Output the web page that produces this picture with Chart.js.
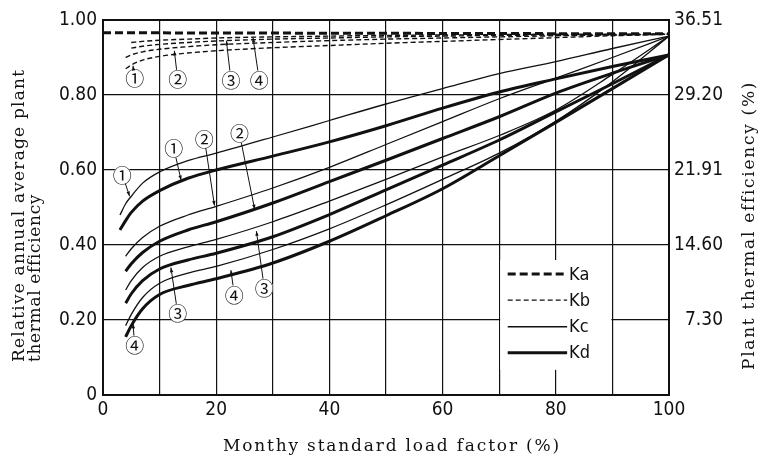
<!DOCTYPE html>
<html>
<head>
<meta charset="utf-8">
<script src="https://cdn.jsdelivr.net/npm/chart.js@4.4.1/dist/chart.umd.min.js"></script>
<style>
  html, body { margin: 0; padding: 0; background: #fff; }
  #c { display: block; }
</style>
</head>
<body>
<canvas id="c" width="763" height="466"></canvas>
<script>
// ---- data ----
const loadFactor = [3, 4, 5, 7, 10, 15, 20, 30, 40, 50, 60, 70, 80, 90, 100];

const kaX = [0, 100];
const ka  = [0.966, 0.963];

const kb1 = [null, 0.870, 0.880, 0.893, 0.903, 0.912, 0.918, 0.926, 0.932, 0.938, 0.943, 0.948, 0.953, 0.958, 0.962];
const kb2 = [null, 0.900, 0.907, 0.915, 0.922, 0.929, 0.934, 0.940, 0.945, 0.949, 0.952, 0.955, 0.958, 0.960, 0.962];
const kb3 = [null, null, 0.925, 0.930, 0.935, 0.940, 0.944, 0.949, 0.952, 0.955, 0.957, 0.959, 0.960, 0.961, 0.962];
const kb4 = [null, null, 0.940, 0.943, 0.946, 0.949, 0.952, 0.955, 0.957, 0.959, 0.960, 0.961, 0.962, 0.962, 0.963];

const kc1 = [0.480, 0.510, 0.530, 0.565, 0.595, 0.625, 0.645, 0.688, 0.732, 0.776, 0.817, 0.857, 0.889, 0.924, 0.957];
const kc2 = [null, 0.370, 0.390, 0.420, 0.450, 0.480, 0.503, 0.552, 0.607, 0.668, 0.729, 0.790, 0.845, 0.900, 0.957];
const kc3 = [null, 0.280, 0.305, 0.340, 0.370, 0.395, 0.415, 0.462, 0.517, 0.575, 0.635, 0.692, 0.760, 0.855, 0.957];
const kc4 = [null, 0.185, 0.215, 0.260, 0.298, 0.325, 0.343, 0.388, 0.443, 0.507, 0.575, 0.645, 0.730, 0.835, 0.957];

const kd1 = [0.440, 0.465, 0.487, 0.517, 0.545, 0.578, 0.600, 0.637, 0.675, 0.718, 0.765, 0.808, 0.843, 0.876, 0.907];
const kd2 = [null, 0.330, 0.350, 0.380, 0.410, 0.440, 0.462, 0.512, 0.569, 0.626, 0.684, 0.742, 0.805, 0.858, 0.907];
const kd3 = [null, 0.245, 0.270, 0.305, 0.336, 0.360, 0.378, 0.422, 0.481, 0.547, 0.613, 0.680, 0.755, 0.830, 0.907];
const kd4 = [null, 0.155, 0.185, 0.230, 0.268, 0.292, 0.310, 0.352, 0.410, 0.478, 0.550, 0.638, 0.727, 0.817, 0.907];

const xTickLabels = ['0', '20', '40', '60', '80', '100'];
const leftTickLabels = ['0', '0.20', '0.40', '0.60', '0.80', '1.00'];
const rightTickLabels = ['', '7.30', '14.60', '21.91', '29.20', '36.51'];
const legendLabels = ['Ka', 'Kb', 'Kc', 'Kd'];

// circled case numbers: [text, label x, label y, arrow tip x, arrow tip y] in data units
const callouts = [
    ['①', 5.6, 0.845, 5.3, 0.878],
    ['②', 13.2, 0.842, 12.6, 0.918],
    ['③', 22.6, 0.840, 21.8, 0.945],
    ['④', 27.6, 0.840, 26.5, 0.953],
    ['①', 3.4, 0.588, 4.7, 0.530],
    ['①', 12.5, 0.658, 13.8, 0.573],
    ['②', 17.9, 0.684, 19.7, 0.505],
    ['②', 24.1, 0.698, 26.8, 0.495],
    ['③', 28.5, 0.285, 27.1, 0.437],
    ['③', 13.2, 0.218, 12.0, 0.340],
    ['④', 23.2, 0.267, 22.6, 0.333],
    ['④', 5.6, 0.133, 5.3, 0.190]
];

// ---- styles ----
const INK = '#111';
const NARROW = '"DejaVu Sans Condensed", "DejaVu Sans", sans-serif';
const SERIF = '"DejaVu Serif", "Liberation Serif", serif';

const lineStyle = {
    Ka: { borderWidth: 3, borderDash: [8, 4] },
    Kb: { borderWidth: 1.4, borderDash: [5, 3] },
    Kc: { borderWidth: 1.3, borderDash: [] },
    Kd: { borderWidth: 3, borderDash: [] }
};

function toPoints(xs, ys) {
    return xs.map((x, i) => ({ x: x, y: ys[i] })).filter(p => p.y !== null);
}

function curve(label, key, xs, ys) {
    return {
        label: label,
        data: toPoints(xs, ys),
        borderColor: INK,
        borderWidth: lineStyle[key].borderWidth,
        borderDash: lineStyle[key].borderDash,
        pointRadius: 0,
        fill: false,
        cubicInterpolationMode: 'monotone'
    };
}

const datasets = [
    curve('Ka', 'Ka', kaX, ka),
    curve('Kb 1', 'Kb', loadFactor, kb1),
    curve('Kb 2', 'Kb', loadFactor, kb2),
    curve('Kb 3', 'Kb', loadFactor, kb3),
    curve('Kb 4', 'Kb', loadFactor, kb4),
    curve('Kc 1', 'Kc', loadFactor, kc1),
    curve('Kc 2', 'Kc', loadFactor, kc2),
    curve('Kc 3', 'Kc', loadFactor, kc3),
    curve('Kc 4', 'Kc', loadFactor, kc4),
    curve('Kd 1', 'Kd', loadFactor, kd1),
    curve('Kd 2', 'Kd', loadFactor, kd2),
    curve('Kd 3', 'Kd', loadFactor, kd3),
    curve('Kd 4', 'Kd', loadFactor, kd4)
];

function spacedText(ctx, text, x, y, target) {
    ctx.letterSpacing = '0px';
    const w = ctx.measureText(text).width;
    const sp = Math.max(0, (target - w) / (text.length - 1));
    ctx.letterSpacing = sp.toFixed(2) + 'px';
    ctx.fillText(text, x, y);
    ctx.letterSpacing = '0px';
}

/* ---- legend box, case numbers and axis titles ---- */
const decor = {
    id: 'decor',
    afterDatasetsDraw(chart) {
        const { ctx } = chart;
        const xs = chart.scales.x, ys = chart.scales.y;

        // legend inside the plot
        const l = xs.getPixelForValue(70), r = xs.getPixelForValue(90);
        const t = ys.getPixelForValue(0.36), b = ys.getPixelForValue(0.067);
        ctx.save();
        ctx.fillStyle = '#fff';
        ctx.fillRect(l + 1, t, r - l - 2, b - t);
        const rowVals = [0.323, 0.253, 0.182, 0.113];
        legendLabels.forEach((lab, i) => {
            const yy = ys.getPixelForValue(rowVals[i]);
            const st = lineStyle[lab];
            ctx.strokeStyle = INK;
            ctx.lineWidth = st.borderWidth;
            ctx.setLineDash(st.borderDash);
            ctx.beginPath();
            ctx.moveTo(xs.getPixelForValue(71.5), yy);
            ctx.lineTo(xs.getPixelForValue(82), yy);
            ctx.stroke();
            ctx.setLineDash([]);
            ctx.fillStyle = INK;
            ctx.font = '18px ' + NARROW;
            ctx.textAlign = 'left';
            ctx.textBaseline = 'middle';
            ctx.fillText(lab, xs.getPixelForValue(82) + 2, yy + 1);
        });

        // circled case numbers with arrows
        ctx.font = '19px "Noto Sans CJK JP"';
        ctx.textAlign = 'center';
        ctx.textBaseline = 'middle';
        callouts.forEach(([txt, lx, ly, tx, ty]) => {
            const cx = xs.getPixelForValue(lx), cy = ys.getPixelForValue(ly);
            const px = xs.getPixelForValue(tx), py = ys.getPixelForValue(ty);
            ctx.fillStyle = '#fff';
            ctx.beginPath();
            ctx.arc(cx, cy, 9, 0, Math.PI * 2);
            ctx.fill();
            ctx.fillStyle = INK;
            ctx.fillText(txt, cx, cy + 1);

            const a = Math.atan2(py - cy, px - cx);
            const sx = cx + 9.5 * Math.cos(a), sy = cy + 9.5 * Math.sin(a);
            ctx.strokeStyle = INK;
            ctx.lineWidth = 1;
            ctx.beginPath();
            ctx.moveTo(sx, sy);
            ctx.lineTo(px, py);
            ctx.stroke();
            ctx.beginPath();
            ctx.moveTo(px, py);
            ctx.lineTo(px - 5 * Math.cos(a - 0.35), py - 5 * Math.sin(a - 0.35));
            ctx.lineTo(px - 5 * Math.cos(a + 0.35), py - 5 * Math.sin(a + 0.35));
            ctx.closePath();
            ctx.fill();
        });
        ctx.restore();
    },
    afterDraw(chart) {
        const { ctx } = chart;
        ctx.save();
        ctx.fillStyle = INK;
        ctx.font = '17px ' + SERIF;
        ctx.textBaseline = 'middle';
        ctx.textAlign = 'left';

        // bottom title
        spacedText(ctx, 'Monthy standard load factor (%)', 223, 447, 336);

        // left title, two lines reading upwards
        ctx.save();
        ctx.translate(20, 362);
        ctx.rotate(-Math.PI / 2);
        spacedText(ctx, 'Relative annual average plant', 0, 0, 292);
        spacedText(ctx, 'thermal efficiency', 0, 16, 167);
        ctx.restore();

        // right title
        ctx.save();
        ctx.translate(750, 370);
        ctx.rotate(-Math.PI / 2);
        spacedText(ctx, 'Plant thermal efficiency (%)', 0, 0, 287);
        ctx.restore();
        ctx.restore();
    }
};

const gridWidth = (c) => (c.tick && (c.tick.value >= 0.999 && c.tick.value <= 1.001)) ? 2 : 1.2;

new Chart(document.getElementById('c').getContext('2d'), {
    type: 'line',
    data: { datasets: datasets },
    options: {
        responsive: false,
        animation: false,
        layout: { padding: { top: 20, right: 40, left: 0, bottom: 0 } },
        plugins: {
            legend: { display: false },
            tooltip: { enabled: false }
        },
        scales: {
            x: {
                type: 'linear',
                min: 0,
                max: 100,
                afterFit: (s) => { s.height = 71; },
                grid: { color: INK, lineWidth: 1.2, drawTicks: false },
                border: { color: INK, width: 2 },
                ticks: {
                    stepSize: 10,
                    autoSkip: false,
                    maxRotation: 0,
                    padding: 4,
                    color: INK,
                    font: { family: NARROW, size: 19 },
                    callback: (v) => xTickLabels.includes(String(v)) ? String(v) : ''
                }
            },
            y: {
                position: 'left',
                min: 0,
                max: 1,
                afterFit: (s) => { s.width = 103; },
                grid: { color: INK, lineWidth: gridWidth, drawTicks: false },
                border: { color: INK, width: 2 },
                ticks: {
                    stepSize: 0.2,
                    padding: 6,
                    color: INK,
                    font: { family: NARROW, size: 19 },
                    callback: (v, i) => leftTickLabels[i]
                }
            },
            y2: {
                position: 'right',
                min: 0,
                max: 1,
                afterFit: (s) => { s.width = 54; },
                grid: { display: false, drawTicks: false },
                border: { color: INK, width: 2 },
                ticks: {
                    stepSize: 0.2,
                    padding: 6,
                    crossAlign: 'far',
                    color: INK,
                    font: { family: NARROW, size: 19 },
                    callback: (v, i) => rightTickLabels[i]
                }
            }
        }
    },
    plugins: [decor]
});
</script>
</body>
</html>
